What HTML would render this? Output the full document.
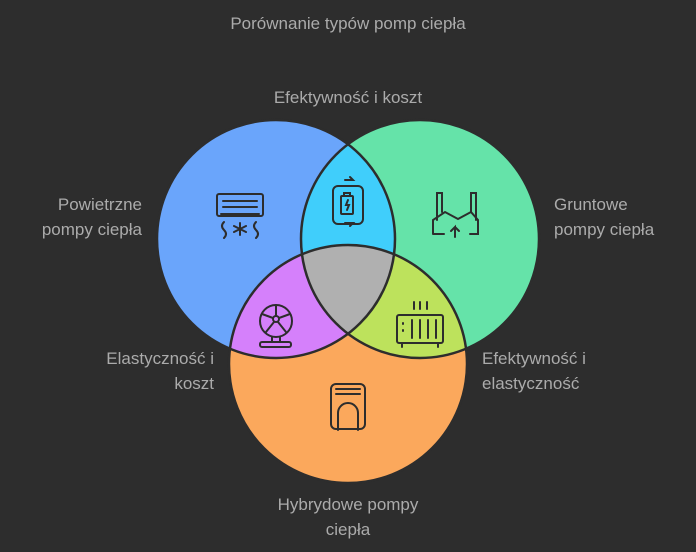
<!DOCTYPE html>
<html><head><meta charset="utf-8"><style>
body{margin:0;background:#2d2d2d;}
svg{display:block}
text{font-family:"Liberation Sans",sans-serif;fill:#ababab;font-size:17px}
</style></head><body>
<svg width="696" height="552" viewBox="0 0 696 552">
<rect width="696" height="552" fill="#2d2d2d"/>
<defs>
<clipPath id="cb"><circle cx="276" cy="239" r="119"/></clipPath>
<clipPath id="cg"><circle cx="420" cy="239" r="119"/></clipPath>
<clipPath id="co"><circle cx="348" cy="364" r="119"/></clipPath>
</defs>
<circle cx="276" cy="239" r="119" fill="#6aa5fb"/>
<circle cx="420" cy="239" r="119" fill="#65e3a9"/>
<circle cx="348" cy="364" r="119" fill="#fba85c"/>
<circle cx="420" cy="239" r="119" fill="#40cefb" clip-path="url(#cb)"/>
<circle cx="348" cy="364" r="119" fill="#d580fb" clip-path="url(#cb)"/>
<circle cx="348" cy="364" r="119" fill="#bde25c" clip-path="url(#cg)"/>
<g clip-path="url(#cb)"><circle cx="348" cy="364" r="119" fill="#b0b0b0" clip-path="url(#cg)"/></g>
<g fill="none" stroke="#2d2d2d" stroke-width="2.5">
<circle cx="276" cy="239" r="119"/><circle cx="420" cy="239" r="119"/><circle cx="348" cy="364" r="119"/>
</g>
<g fill="none" stroke="#2d2d2d" stroke-width="2" stroke-linecap="round">
<rect x="217" y="194" width="46" height="22" rx="2"/><line x1="223" y1="201" x2="257" y2="201"/><line x1="223" y1="207" x2="257" y2="207"/><line x1="221" y1="214" x2="259" y2="214"/>
<path d="M224 222q-4 4 0 8t0 8M256 222q-4 4 0 8t0 8M240 223v12M234 226l12 6M246 226l-12 6"/>
<rect x="333" y="186" width="30" height="38" rx="5"/><rect x="341" y="196" width="12" height="18" rx="1"/><path d="M344 196v-3h6v3M348 200l-2 5h3l-2 5"/><path d="M345 180h8l-3-3M345 223h8l-3 3"/>
<path d="M433 234v-14l12-8 13 7 13-7 7 8v14h-8M444 234h-11"/><path d="M437 220v-27h5v19M471 212v-19h5v27"/><path d="M455 237v-10l-4 4M455 227l4 4"/>
<circle cx="276" cy="321" r="16"/><circle cx="276" cy="319" r="3"/><path d="M276 305v11M262 314l11 4M266 332l8-10M286 332l-8-10M290 314l-11 4"/><path d="M272 337v5h8v-5"/><rect x="260" y="342" width="31" height="5" rx="2"/>
<rect x="397" y="315" width="46" height="28" rx="2"/><path d="M412 320v18M420 320v18M428 320v18M436 320v18M403 323v1M403 330v1M402 343v4M438 343v4M414 302v7M420 302v7M427 302v7"/>
<rect x="331" y="384" width="34" height="45" rx="5"/><path d="M336 389h24M336 394h24M338 430v-17a10 10 0 0 1 20 0v17"/>
</g>
<text x="348" y="29" text-anchor="middle">Porównanie typów pomp ciepła</text>
<text x="348" y="103" text-anchor="middle">Efektywność i koszt</text>
<text x="142" y="210" text-anchor="end">Powietrzne</text>
<text x="142" y="235" text-anchor="end">pompy ciepła</text>
<text x="554" y="210">Gruntowe</text>
<text x="554" y="235">pompy ciepła</text>
<text x="214" y="364" text-anchor="end">Elastyczność i</text>
<text x="214" y="389" text-anchor="end">koszt</text>
<text x="482" y="364">Efektywność i</text>
<text x="482" y="389">elastyczność</text>
<text x="348" y="510" text-anchor="middle">Hybrydowe pompy</text>
<text x="348" y="535" text-anchor="middle">ciepła</text>
</svg>
</body></html>
